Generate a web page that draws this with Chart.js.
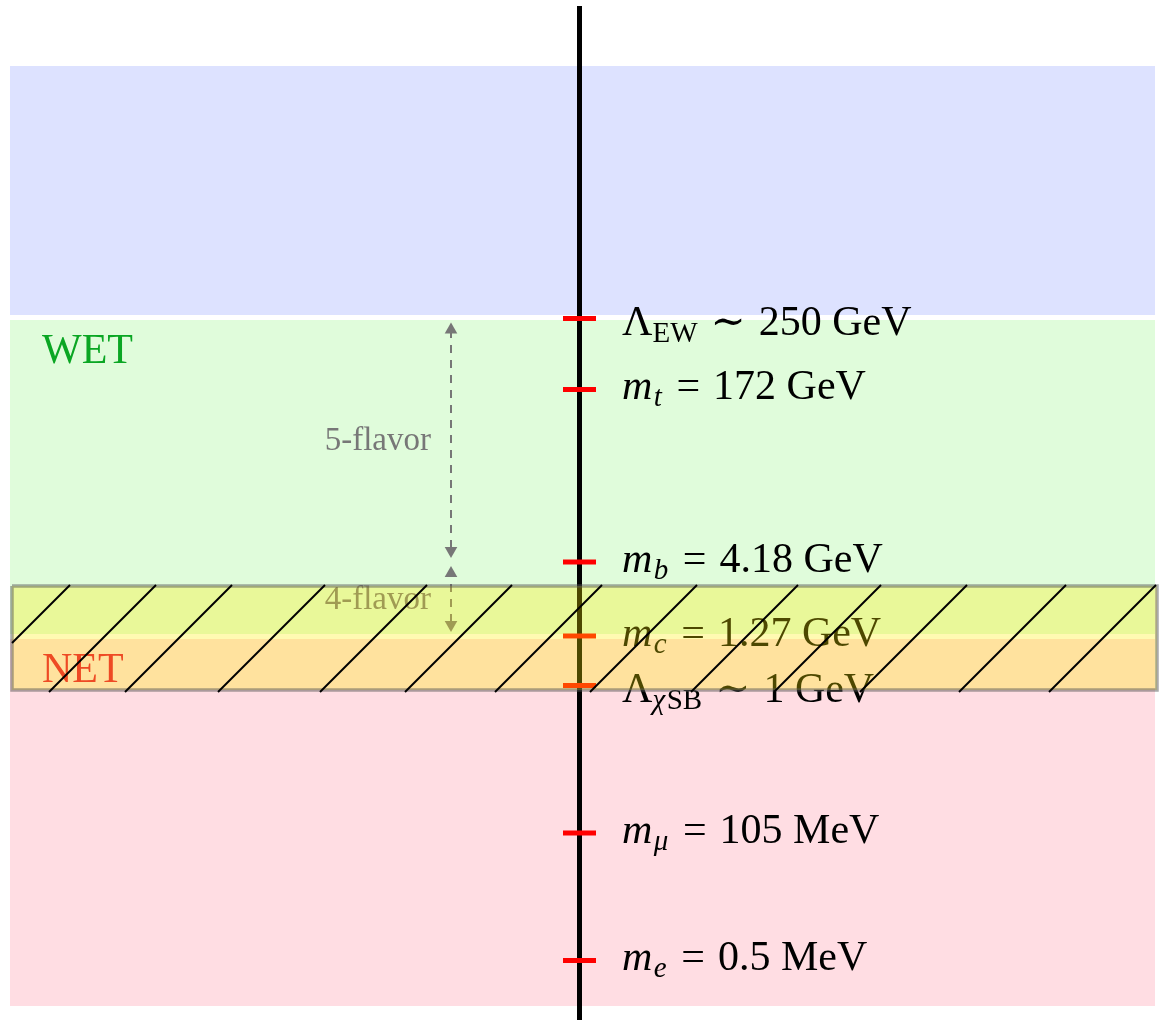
<!DOCTYPE html>
<html>
<head>
<meta charset="utf-8">
<script src="https://cdn.jsdelivr.net/npm/chart.js@4.4.1/dist/chart.umd.min.js"></script>
<style>
  html, body { margin: 0; padding: 0; background: #ffffff; }
  #wrap { width: 1161px; height: 1020px; }
</style>
</head>
<body>
<div id="wrap"><canvas id="ladder" width="1161" height="1020"></canvas></div>
<script>
// ---- Energy-scale ladder (schematic heights on the vertical axis) ----
// symbol pieces: r = roman, i = italic, sr / si = subscript roman / italic
const scaleSymbols = [
  [['Λ', 'r'], ['EW', 'sr']],
  [['m', 'i'], ['t', 'si']],
  [['m', 'i'], ['b', 'si']],
  [['m', 'i'], ['c', 'si']],
  [['Λ', 'r'], ['χ', 'si'], ['SB', 'sr']],
  [['m', 'i'], ['μ', 'si']],
  [['m', 'i'], ['e', 'si']]
];
const scaleRelations = ['∼', '=', '=', '=', '∼', '=', '='];
const scaleValues = ['250 GeV', '172 GeV', '4.18 GeV', '1.27 GeV', '1 GeV', '105 MeV', '0.5 MeV'];
const scaleHeights = [70.15, 63.05, 45.8, 38.4, 33.45, 18.7, 5.95];

// Effective-theory regions
const regionNames = ['', 'WET', 'NET'];
const regionTops = [95.4, 70.0, 38.1];
const regionBottoms = [70.5, 38.6, 1.4];

// Flavour-number spans (indices into the scale arrays)
const flavorLabels = ['5-flavor', '4-flavor'];
const flavorFrom = [2, 3];
const flavorTo = [0, 2];

// Hatched matching window
const windowTop = 43.4;
const windowBottom = 33.0;
const hatchStarts = [-3.7, 4.9, 12.5, 21.8, 32.0, 40.5, 49.5, 59.0, 69.1, 77.4, 86.0, 95.9, 104.9];

// ---- layout / style ----
const X_MAX = 116.1, Y_MAX = 102;
const BAND_LEFT = 1.0, BAND_RIGHT = 115.5;
const BOX_LEFT = 1.2, BOX_RIGHT = 115.7;
const HATCH_LOW = 32.8, HATCH_HIGH = 43.5;
const AXIS_X = 57.95, AXIS_TOP = 101.4;
const ARROW_X = 45.1;
const LABEL_X = 62.2;
const REGION_LABEL_X = 4.2;
const regionColors = ['#dde2ff', '#e0fcdb', '#ffdde3'];
const regionTextColors = ['#000000', '#0aa623', '#ee4a24'];
const FONT = "'Liberation Serif', 'DejaVu Serif', serif";
const MAIN = 42, SUB = 29, SUB_DROP = 7, REL_GAP = 13;

const datasets = [];

regionTops.forEach((top, i) => {
  datasets.push({
    tag: 'region',
    data: [{ x: BAND_LEFT, y: top }, { x: BAND_RIGHT, y: top }],
    borderWidth: 0,
    borderColor: 'rgba(0,0,0,0)',
    backgroundColor: regionColors[i],
    fill: { value: regionBottoms[i] },
    pointRadius: 0,
    order: 9
  });
});

datasets.push({
  tag: 'axis',
  data: [{ x: AXIS_X, y: 0 }, { x: AXIS_X, y: AXIS_TOP }],
  borderColor: '#000000',
  borderWidth: 5,
  borderCapStyle: 'butt',
  pointRadius: 0,
  fill: false,
  order: 8
});

datasets.push({
  tag: 'ticks',
  data: scaleHeights.map(h => ({ x: AXIS_X, y: h })),
  showLine: false,
  pointStyle: 'line',
  pointRadius: 16.5,
  pointBorderWidth: 5,
  pointBorderColor: '#ff0000',
  pointBackgroundColor: '#ff0000',
  fill: false,
  order: 7
});

datasets.push({
  tag: 'windowFill',
  data: [{ x: BOX_LEFT, y: windowTop }, { x: BOX_RIGHT, y: windowTop }],
  borderWidth: 0,
  borderColor: 'rgba(0,0,0,0)',
  backgroundColor: 'rgba(255,240,0,0.3)',
  fill: { value: windowBottom },
  pointRadius: 0,
  order: 6
});

datasets.push({
  tag: 'windowBorder',
  data: [
    { x: BOX_LEFT, y: windowTop }, { x: BOX_RIGHT, y: windowTop },
    { x: BOX_RIGHT, y: windowBottom }, { x: BOX_LEFT, y: windowBottom },
    { x: BOX_LEFT, y: windowTop }
  ],
  borderColor: 'rgba(85,85,85,0.5)',
  borderWidth: 3.5,
  borderJoinStyle: 'miter',
  pointRadius: 0,
  fill: false,
  order: 5
});

const rise = HATCH_HIGH - HATCH_LOW;
hatchStarts.forEach(x0 => {
  let xa = x0, ya = HATCH_LOW;
  if (xa < BOX_LEFT) { ya += BOX_LEFT - xa; xa = BOX_LEFT; }
  let xb = x0 + rise, yb = HATCH_HIGH;
  if (xb > BOX_RIGHT) { yb -= xb - BOX_RIGHT; xb = BOX_RIGHT; }
  datasets.push({
    tag: 'hatch',
    data: [{ x: xa, y: ya }, { x: xb, y: yb }],
    borderColor: '#000000',
    borderWidth: 2,
    pointRadius: 0,
    fill: false,
    order: 4
  });
});

function drawPieces(ctx, pieces, x, y) {
  for (const [text, kind] of pieces) {
    const sub = kind[0] === 's';
    const ital = kind[kind.length - 1] === 'i';
    ctx.font = (ital ? 'italic ' : '') + (sub ? SUB : MAIN) + 'px ' + FONT;
    ctx.fillText(text, x, y + (sub ? SUB_DROP : 0));
    x += ctx.measureText(text).width + (ital ? 1.5 : 0);
  }
  return x;
}

function drawArrowHead(ctx, x, tip, dir) {
  // dir = -1 points up, +1 points down
  ctx.beginPath();
  ctx.moveTo(x, tip);
  ctx.lineTo(x - 6.3, tip - dir * 11);
  ctx.lineTo(x + 6.3, tip - dir * 11);
  ctx.closePath();
  ctx.fill();
}

const layerPlugin = {
  id: 'ladderText',
  afterDatasetDraw(chart, args) {
    const tag = chart.data.datasets[args.index].tag;
    const ctx = chart.ctx;
    const xs = chart.scales.x, ys = chart.scales.y;
    if (tag === 'ticks') {
      ctx.save();
      ctx.fillStyle = '#000000';
      ctx.textBaseline = 'alphabetic';
      ctx.textAlign = 'left';
      scaleHeights.forEach((h, i) => {
        const yPix = ys.getPixelForValue(h);
        const drop = scaleSymbols[i][0][0] === 'Λ' ? 16.5 : 9.5;
        const base = yPix + drop;
        let x = drawPieces(ctx, scaleSymbols[i], xs.getPixelForValue(LABEL_X), base);
        x += REL_GAP;
        ctx.font = MAIN + 'px ' + FONT;
        ctx.fillText(scaleRelations[i], x, base);
        x += ctx.measureText(scaleRelations[i]).width + REL_GAP;
        ctx.fillText(scaleValues[i], x, base);
      });

      // flavour-number arrows
      const ax = xs.getPixelForValue(ARROW_X);
      ctx.strokeStyle = '#777777';
      ctx.fillStyle = '#777777';
      ctx.lineWidth = 2;
      flavorLabels.forEach((label, i) => {
        const yLow = ys.getPixelForValue(scaleHeights[flavorFrom[i]]) - 4;
        const yHigh = ys.getPixelForValue(scaleHeights[flavorTo[i]]) + 4;
        ctx.setLineDash([8, 7]);
        ctx.beginPath();
        ctx.moveTo(ax, yLow - 10);
        ctx.lineTo(ax, yHigh + 10);
        ctx.stroke();
        ctx.setLineDash([]);
        drawArrowHead(ctx, ax, yHigh, -1);
        drawArrowHead(ctx, ax, yLow, 1);
        ctx.font = '33px ' + FONT;
        ctx.textAlign = 'right';
        ctx.fillText(label, ax - 20, (yLow + yHigh) / 2 + 10);
        ctx.textAlign = 'left';
      });
      ctx.restore();
    }
    if (tag === 'windowBorder') {
      ctx.save();
      ctx.textAlign = 'left';
      ctx.textBaseline = 'alphabetic';
      ctx.font = MAIN + 'px ' + FONT;
      regionNames.forEach((name, i) => {
        if (!name) return;
        ctx.fillStyle = regionTextColors[i];
        ctx.fillText(name, xs.getPixelForValue(REGION_LABEL_X), ys.getPixelForValue(regionTops[i]) + 43);
      });
      ctx.restore();
    }
  }
};

new Chart(document.getElementById('ladder'), {
  type: 'line',
  data: { datasets },
  options: {
    responsive: false,
    animation: false,
    events: [],
    devicePixelRatio: 1,
    layout: { padding: 0, autoPadding: false },
    plugins: {
      legend: { display: false },
      tooltip: { enabled: false },
      title: { display: false }
    },
    scales: {
      x: { type: 'linear', min: 0, max: X_MAX, display: false },
      y: { type: 'linear', min: 0, max: Y_MAX, display: false }
    },
    elements: { line: { tension: 0 }, point: { radius: 0 } }
  },
  plugins: [layerPlugin]
});
</script>
</body>
</html>
